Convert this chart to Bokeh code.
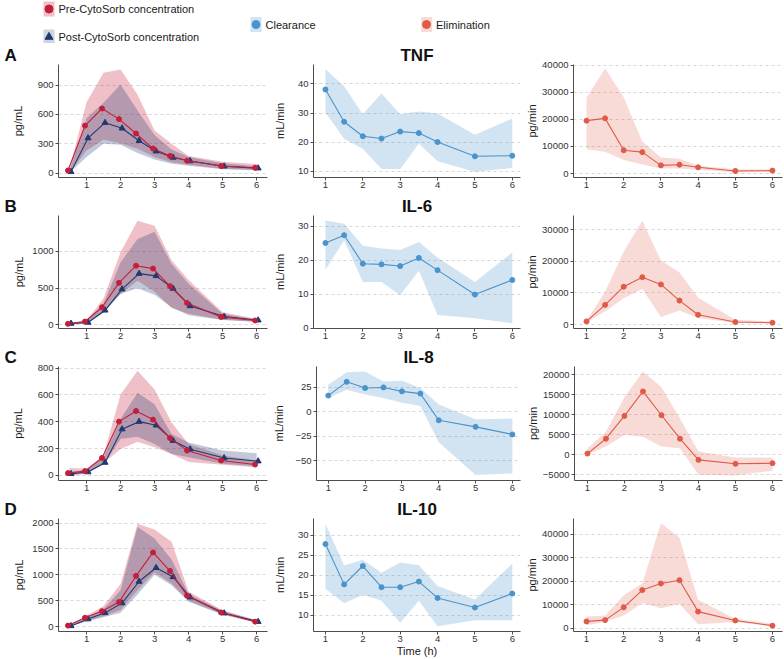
from bokeh.plotting import figure
from bokeh.models import Range1d, FixedTicker, BasicTickFormatter
from bokeh.layouts import column, row
from bokeh.embed import file_html
from bokeh.resources import INLINE
from bokeh.core.properties import value

FONT = "Liberation Sans"

# ---------------- data ----------------
t_conc = [0.5, 1, 1.5, 2, 2.5, 3, 3.5, 4, 5, 6]
t_rate = [1, 1.5, 2, 2.5, 3, 3.5, 4, 5, 6]
x_ticks = [1, 2, 3, 4, 5, 6]
cytokines = ["TNF", "IL-6", "IL-8", "IL-10"]
letters = ["A", "B", "C", "D"]

tnf_pre = [27, 485, 660, 552, 405, 251, 175, 127, 72, 54]
tnf_pre_lo = [8, 230, 340, 305, 250, 165, 110, 85, 45, 32]
tnf_pre_hi = [40, 725, 1025, 1060, 800, 435, 300, 175, 115, 92]
tnf_post = [13, 358, 515, 458, 331, 224, 160, 124, 70, 50]
tnf_post_lo = [3, 165, 300, 290, 205, 140, 95, 75, 40, 30]
tnf_post_hi = [30, 560, 720, 905, 640, 390, 240, 165, 100, 70]
tnf_cl = [38.1, 27.0, 22.0, 21.2, 23.6, 23.1, 20.0, 15.1, 15.3]
tnf_cl_lo = [30.2, 21.1, 17.7, 10.7, 10.7, 19.4, 13.4, 9.8, 11.1]
tnf_cl_hi = [45.1, 39.2, 29.6, 36.7, 29.6, 30.5, 29.8, 22.5, 28.1]
tnf_el = [19500, 20350, 8600, 7900, 3030, 3270, 2300, 970, 1090]
tnf_el_lo = [9000, 8000, 5000, 3300, 1900, 1900, 1400, 450, 700]
tnf_el_hi = [27900, 38700, 28100, 11800, 5900, 5500, 2900, 1600, 1450]

il6_pre = [14, 45, 239, 572, 806, 766, 527, 297, 108, 59]
il6_pre_lo = [5, 20, 190, 420, 600, 450, 230, 150, 70, 40]
il6_pre_hi = [30, 60, 360, 990, 1420, 1350, 880, 610, 170, 80]
il6_post = [18, 32, 198, 486, 698, 667, 495, 257, 113, 63]
il6_post_lo = [5, 15, 160, 420, 500, 410, 240, 130, 65, 40]
il6_post_hi = [25, 45, 290, 850, 1170, 1270, 830, 560, 150, 75]
il6_cl = [25.1, 27.4, 19.0, 18.8, 18.3, 20.7, 17.1, 9.9, 14.2]
il6_cl_lo = [17.2, 25.9, 13.6, 13.6, 9.7, 16.9, 3.9, 2.9, 1.4]
il6_cl_hi = [31.7, 30.8, 24.3, 23.5, 23.0, 25.4, 20.8, 13.6, 22.3]
il6_el = [1040, 6250, 11980, 15000, 12700, 7600, 3130, 830, 630]
il6_el_lo = [700, 4170, 8330, 11250, 2400, 4480, 2080, 500, 400]
il6_el_hi = [1350, 10400, 23100, 32800, 20300, 16500, 8540, 1560, 1040]

il8_pre = [17, 32, 130, 401, 480, 416, 278, 185, 111, 81]
il8_pre_lo = [0, 15, 90, 197, 250, 210, 160, 100, 80, 60]
il8_pre_hi = [55, 50, 150, 603, 781, 640, 394, 234, 148, 111]
il8_post = [12, 25, 96, 345, 401, 374, 259, 195, 130, 106]
il8_post_lo = [0, 15, 80, 271, 288, 234, 160, 135, 86, 67]
il8_post_hi = [25, 40, 130, 420, 616, 530, 308, 246, 185, 165]
il8_cl = [16.4, 30.4, 24.1, 24.7, 20.7, 18.4, -8.7, -15.4, -23.1]
il8_cl_lo = [14.0, 22.4, 17.4, 14.0, 9.0, 5.7, -31.1, -64.5, -62.9]
il8_cl_hi = [27.4, 40.1, 40.8, 30.8, 31.4, 24.1, 7.4, -7.7, -7.0]
il8_el = [330, 4050, 9750, 15870, 9920, 4050, -1240, -2230, -2070]
il8_el_lo = [100, 2070, 4960, 4550, 2070, 1650, -4960, -5120, -3970]
il8_el_hi = [1650, 5790, 14460, 20830, 16940, 9090, 830, -660, -660]

il10_pre = [19, 170, 297, 473, 978, 1432, 1073, 599, 271, 95]
il10_pre_lo = [5, 110, 200, 320, 700, 1050, 830, 500, 240, 80]
il10_pre_hi = [30, 210, 397, 820, 1987, 1874, 1640, 675, 315, 126]
il10_post = [13, 145, 265, 454, 871, 1136, 959, 568, 259, 95]
il10_post_lo = [3, 100, 180, 265, 620, 1000, 800, 480, 230, 75]
il10_post_hi = [25, 190, 340, 700, 1924, 1703, 1293, 630, 300, 120]
il10_cl = [27.8, 17.7, 22.3, 17.0, 17.0, 18.4, 14.3, 11.9, 15.4]
il10_cl_lo = [16.6, 13.0, 15.1, 13.6, 8.1, 13.6, 7.2, 8.7, 8.7]
il10_cl_hi = [32.9, 22.4, 23.9, 20.6, 23.2, 22.5, 17.3, 13.9, 22.9]
il10_el = [2930, 3480, 8920, 16300, 19100, 20500, 7110, 3350, 1120]
il10_el_lo = [1250, 2650, 5440, 10730, 8500, 10310, 1670, 2650, 840]
il10_el_hi = [5020, 5440, 14080, 19100, 44740, 38600, 12130, 4040, 1950]

conc_ticks = [[0, 300, 600, 900], [0, 500, 1000], [0, 200, 400, 600, 800], [0, 500, 1000, 1500, 2000]]
cl_ticks = [[10, 20, 30, 40], [0, 10, 20, 30], [-50, -25, 0, 25], [10, 15, 20, 25, 30]]
el_ticks = [[0, 10000, 20000, 30000, 40000], [0, 10000, 20000, 30000],
            [-5000, 0, 5000, 10000, 15000, 20000], [0, 10000, 20000, 30000, 40000]]

conc_data = [
    (tnf_pre, tnf_pre_lo, tnf_pre_hi, tnf_post, tnf_post_lo, tnf_post_hi),
    (il6_pre, il6_pre_lo, il6_pre_hi, il6_post, il6_post_lo, il6_post_hi),
    (il8_pre, il8_pre_lo, il8_pre_hi, il8_post, il8_post_lo, il8_post_hi),
    (il10_pre, il10_pre_lo, il10_pre_hi, il10_post, il10_post_lo, il10_post_hi),
]
cl_data = [(tnf_cl, tnf_cl_lo, tnf_cl_hi), (il6_cl, il6_cl_lo, il6_cl_hi),
           (il8_cl, il8_cl_lo, il8_cl_hi), (il10_cl, il10_cl_lo, il10_cl_hi)]
el_data = [(tnf_el, tnf_el_lo, tnf_el_hi), (il6_el, il6_el_lo, il6_el_hi),
           (il8_el, il8_el_lo, il8_el_hi), (il10_el, il10_el_lo, il10_el_hi)]

# ---------------- style / layout ----------------
PRE = "#C41E3A"
POST = "#1F3A70"
CLR = "#4A93CB"
ELM = "#E05A47"
AXC = "#4D4D4D"
TXT = "#1A1A1A"

# (min_border_left, frame width, min_border_right, x range)
COLS = [(58, 209, 3, (0.176, 6.32)),
        (43, 207, 3, (0.68, 6.22)),
        (50, 209, 2, (0.65, 6.27))]
# (min_border_top, frame height, min_border_bottom)
ROWS = [(20, 114, 17), (20, 114, 17), (21, 114, 17), (21, 115, 26)]
Y_RANGES = [
    [(-45, 1110), (7.8, 46.7), (-1450, 40200)],
    [(-50, 1490), (-0.1, 33.2), (-1200, 34450)],
    [(-38, 812), (-70, 46), (-6400, 22100)],
    [(-95, 2087), (5.9, 34.2), (-1370, 46800)],
]
YLABELS = ["pg/mL", "mL/min", "pg/min"]
YLAB_STANDOFF = [[11, 9, 1], [4, 9, 1], [11, 7, 1], [4, 9, 1]]
DODGE = 0.045


def panel(ci, ri, yticks):
    mbl, fw, mbr, xr = COLS[ci]
    mbt, fh, mbb = ROWS[ri]
    yr = Y_RANGES[ri][ci]
    p = figure(width=mbl + fw + mbr, height=mbt + fh + mbb, output_backend="svg",
               toolbar_location=None, tools="", x_range=Range1d(*xr), y_range=Range1d(*yr),
               min_border_left=mbl, min_border_right=mbr, min_border_top=mbt,
               min_border_bottom=mbb)
    p.outline_line_color = None
    p.xgrid.grid_line_color = None
    p.ygrid.grid_line_color = "#D6D6D6"
    p.ygrid.grid_line_dash = "3 3"
    p.ygrid.ticker = FixedTicker(ticks=yticks)
    p.yaxis.ticker = FixedTicker(ticks=yticks)
    p.xaxis.ticker = FixedTicker(ticks=x_ticks)
    for ax in (p.xaxis, p.yaxis):
        ax.axis_line_color = AXC
        ax.axis_line_width = 1
        ax.major_tick_line_color = AXC
        ax.major_tick_in = 0
        ax.major_tick_out = 3
        ax.minor_tick_line_color = None
        ax.major_label_text_font = FONT
        ax.major_label_text_font_size = "9.5px"
        ax.major_label_text_color = "#333333"
    p.yaxis.major_label_standoff = 2
    p.xaxis.major_label_standoff = 1
    p.yaxis.formatter = BasicTickFormatter(use_scientific=False)
    p.yaxis.axis_label = YLABELS[ci]
    p.yaxis.axis_label_standoff = YLAB_STANDOFF[ri][ci]
    p.yaxis.axis_label_text_font = FONT
    p.yaxis.axis_label_text_font_size = "11px"
    p.yaxis.axis_label_text_font_style = "normal"
    p.yaxis.axis_label_text_color = TXT
    p.title.standoff = 0
    p.title.text_font = FONT
    p.title.text_font_size = "17px"
    p.title.text_font_style = "bold"
    p.title.text_color = "#111111"
    return p


rows_out = []
for ri in range(4):
    figs = []
    # --- concentration panel ---
    p = panel(0, ri, conc_ticks[ri])
    pre, pre_lo, pre_hi, post, post_lo, post_hi = conc_data[ri]
    p.varea(x=t_conc, y1=pre_lo, y2=pre_hi, fill_color=PRE, fill_alpha=0.28)
    p.varea(x=t_conc, y1=post_lo, y2=post_hi, fill_color=POST, fill_alpha=0.28)
    tx_post = [t + DODGE for t in t_conc]
    tx_pre = [t - DODGE for t in t_conc]
    p.line(tx_post, post, line_color=POST, line_width=1.1)
    p.scatter(tx_post, post, marker="triangle", size=6, fill_color=POST, line_color=POST)
    p.line(tx_pre, pre, line_color=PRE, line_width=1.1)
    p.scatter(tx_pre, pre, marker="circle", size=5, fill_color=PRE, line_color=PRE)
    p.title.text = letters[ri]
    p.title.align = "left"
    p.title.offset = -54
    figs.append(p)

    # --- clearance panel ---
    p = panel(1, ri, cl_ticks[ri])
    v, lo, hi = cl_data[ri]
    p.varea(x=t_rate, y1=lo, y2=hi, fill_color=CLR, fill_alpha=0.25)
    p.line(t_rate, v, line_color=CLR, line_width=1.1)
    p.scatter(t_rate, v, marker="circle", size=5, fill_color=CLR, line_color=CLR)
    p.title.text = cytokines[ri]
    p.title.align = "center"
    if ri == 3:
        p.xaxis.axis_label = "Time (h)"
        p.xaxis.axis_label_standoff = 0
        p.xaxis.axis_label_text_font = FONT
        p.xaxis.axis_label_text_font_size = "11px"
        p.xaxis.axis_label_text_font_style = "normal"
        p.xaxis.axis_label_text_color = TXT
    figs.append(p)

    # --- elimination panel ---
    p = panel(2, ri, el_ticks[ri])
    v, lo, hi = el_data[ri]
    p.varea(x=t_rate, y1=lo, y2=hi, fill_color=ELM, fill_alpha=0.22)
    p.line(t_rate, v, line_color=ELM, line_width=1.1)
    p.scatter(t_rate, v, marker="circle", size=5, fill_color=ELM, line_color=ELM)
    figs.append(p)
    rows_out.append(row(*figs))

# ---------------- legend strip ----------------
leg = figure(width=784, height=43, output_backend="svg", toolbar_location=None, tools="",
             x_range=Range1d(0, 784), y_range=Range1d(43, 0), min_border=0)
leg.axis.visible = False
leg.grid.grid_line_color = None
leg.outline_line_color = None
leg_names = ["Pre-CytoSorb concentration", "Post-CytoSorb concentration", "Clearance", "Elimination"]
leg_colors = [PRE, POST, CLR, ELM]
leg_alpha = [0.28, 0.22, 0.25, 0.22]
leg_markers = ["circle", "triangle", "circle", "circle"]
leg_x = [48.5, 48.5, 255.5, 426]
leg_y = [8.5, 36.5, 24, 24]
for nm, c, a, m, lx, ly in zip(leg_names, leg_colors, leg_alpha, leg_markers, leg_x, leg_y):
    leg.rect(x=[lx], y=[ly], width=11, height=15, fill_color=c, fill_alpha=a, line_color=None)
    leg.scatter(x=[lx], y=[ly], marker=m, size=8, fill_color=c, line_color=c)
    leg.text(x=[lx + 9.5], y=[ly], text=[nm], text_font=value(FONT), text_font_size="11px",
             text_baseline="middle", text_color=TXT)

layout = column(leg, *rows_out)
open("out.html", "w").write(file_html(layout, INLINE))
